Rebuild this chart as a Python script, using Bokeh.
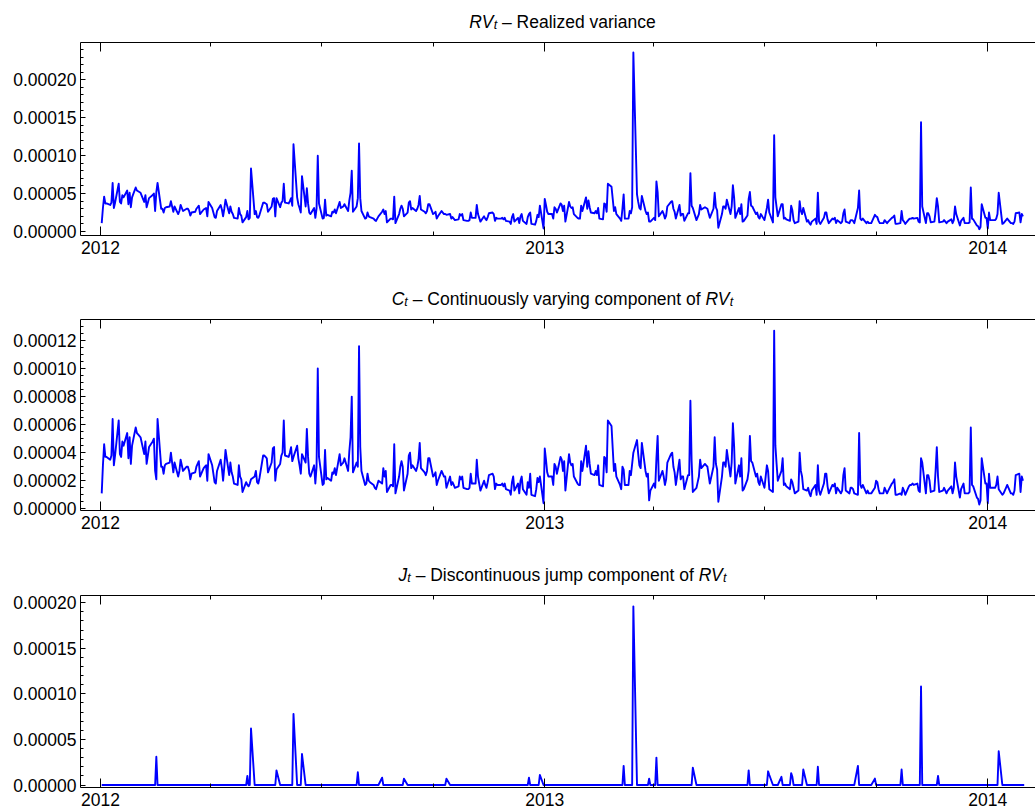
import pandas as pd
from bokeh.plotting import figure
from bokeh.layouts import column
from bokeh.models import (ColumnDataSource, Range1d, DatetimeAxis, FixedTicker,
                          SingleIntervalTicker, PrintfTickFormatter,
                          CustomJSTickFormatter, DatetimeTickFormatter, Label)
from bokeh.embed import file_html
from bokeh.resources import INLINE

# ------------------------------------------------------------------ data
trading_days = pd.bdate_range("2012-01-02", "2014-01-31")

# continuously varying component C_t, in units of 1e-6
continuous_e6 = [
    11, 31, 46, 37, 37, 35, 38, 64, 31, 38,
    63, 39, 37, 48, 45, 54, 36, 51, 32, 45,
    58, 54, 53, 52, 51, 39, 48, 32, 38, 44,
    48, 50, 27, 21, 64, 30, 30, 25, 31, 32,
    33, 40, 33, 26, 33, 23, 27, 35, 31, 27,
    30, 30, 27, 21, 25, 26, 30, 32, 34, 23,
    29, 30, 31, 20, 39, 31, 25, 19, 18, 27,
    35, 29, 20, 30, 42, 24, 33, 26, 23, 18,
    17, 31, 23, 21, 12, 19, 17, 16, 18, 21,
    23, 27, 19, 18, 22, 38, 38, 37, 36, 26,
    33, 43, 44, 20, 28, 32, 38, 40, 63, 38,
    37, 40, 44, 34, 37, 45, 36, 31, 25, 39,
    33, 57, 37, 25, 23, 31, 18, 30, 100, 37,
    17, 18, 42, 21, 22, 20, 26, 25, 29, 24,
    39, 31, 32, 33, 36, 27, 41, 51, 80, 26,
    33, 30, 116, 44, 27, 17, 18, 25, 20, 19,
    17, 15, 14, 17, 20, 18, 29, 23, 27, 12,
    17, 17, 16, 46, 11, 23, 30, 34, 30, 13,
    25, 38, 40, 29, 31, 27, 30, 35, 47, 29,
    26, 24, 27, 36, 36, 23, 24, 26, 17, 20,
    27, 25, 23, 23, 15, 23, 17, 19, 17, 15,
    16, 23, 21, 23, 15, 14, 14, 15, 25, 18,
    18, 35, 23, 18, 13, 20, 17, 15, 19, 24,
    25, 23, 14, 18, 17, 17, 18, 16, 18, 14,
    13, 10, 19, 23, 13, 18, 11, 20, 23, 14,
    10, 19, 15, 25, 10, 9, 14, 22, 19, 23,
    4, 43, 35, 26, 23, 23, 17, 32, 30, 25,
    37, 35, 27, 34, 13, 39, 33, 31, 32, 23,
    18, 17, 17, 34, 27, 45, 30, 41, 32, 25,
    24, 27, 24, 31, 17, 16, 37, 36, 26, 63,
    59, 43, 27, 32, 23, 17, 14, 30, 28, 17,
    17, 27, 24, 32, 40, 49, 39, 31, 29, 47,
    27, 23, 25, 6, 13, 18, 15, 36, 52, 20,
    27, 23, 17, 21, 33, 39, 40, 30, 26, 17,
    35, 21, 23, 23, 14, 24, 24, 77, 34, 12,
    15, 19, 23, 35, 29, 32, 31, 30, 24, 18,
    30, 51, 32, 28, 5, 23, 33, 33, 30, 42,
    23, 33, 61, 45, 18, 31, 23, 36, 13, 14,
    21, 27, 52, 34, 33, 23, 25, 19, 17, 23,
    15, 23, 31, 27, 14, 12, 127, 45, 32, 20,
    27, 36, 17, 18, 16, 14, 21, 19, 15, 11,
    13, 40, 27, 23, 14, 13, 15, 11, 9, 13,
    17, 10, 31, 13, 10, 18, 25, 25, 16, 11,
    17, 16, 18, 11, 15, 11, 13, 24, 29, 13,
    11, 15, 15, 14, 11, 10, 54, 17, 15, 17,
    11, 13, 11, 11, 11, 15, 20, 19, 14, 11,
    11, 15, 13, 11, 13, 18, 19, 21, 10, 10,
    11, 10, 15, 13, 10, 16, 17, 17, 18, 17,
    18, 13, 12, 36, 33, 11, 24, 24, 20, 12,
    13, 27, 44, 23, 12, 13, 15, 13, 11, 13,
    16, 11, 15, 33, 23, 8, 14, 16, 18, 11,
    11, 12, 58, 17, 16, 8, 7, 3, 6, 36,
    18, 18, 4, 25, 15, 15, 15, 17, 23, 14,
    10, 11, 13, 15, 17, 11, 11, 10, 13, 24,
    25, 12, 23, 20,
]

# discontinuous jump component J_t: trading-day number in the sample and size (1e-6)
jump_day = [33, 86, 89, 104, 114, 119, 151, 165, 179, 204, 252, 259, 308, 314,
            323, 327, 349, 381, 393, 394, 400, 406, 407, 414, 422, 445, 455,
            471, 483, 493, 529]
jump_e6 = [31, 10, 62, 16, 78, 34, 14, 8, 7, 7, 8, 11, 21, 196,
           7, 30, 19, 16, 15, 11, 9, 13, 9, 17, 20, 21, 7,
           17, 108, 10, 37]

year_ticks = ["2012-01-01", "2013-01-01", "2014-01-01"]
quarter_ticks = ["2012-04-01", "2012-07-01", "2012-10-01",
                 "2013-04-01", "2013-07-01", "2013-10-01"]

# ------------------------------------------------------------------ series
continuous = [v * 1e-6 for v in continuous_e6]
jumps = [0.0] * len(trading_days)
for d, v in zip(jump_day, jump_e6):
    jumps[d] = v * 1e-6
realized = [c + j for c, j in zip(continuous, jumps)]

# ------------------------------------------------------------------ layout helpers
EPOCH = pd.Timestamp("1970-01-01")


def ms(ts):
    return (pd.Timestamp(ts) - EPOCH) / pd.Timedelta(milliseconds=1)


FONT = "Liberation Sans"
MAIN = 17.5
SUB = 12.5
PX_PER_DAY = 1.2138
LEFT = 80
FRAME_W = 955
TITLE_H = 40
ref = pd.Timestamp("2012-01-01")
x_start = ms(ref + pd.Timedelta(days=(LEFT - 100) / PX_PER_DAY))
x_end = ms(ref + pd.Timedelta(days=(LEFT + FRAME_W - 100) / PX_PER_DAY))

WIDTHS = {' ': .278, '–': .556, 'a': .556, 'c': .5, 'd': .556, 'e': .556,
          'f': .278, 'g': .556, 'i': .222, 'j': .222, 'l': .222, 'm': .833,
          'n': .556, 'o': .556, 'p': .556, 'r': .333, 's': .5, 't': .278,
          'u': .556, 'v': .5, 'y': .5, 'z': .5, 'C': .722, 'D': .722,
          'J': .5, 'R': .722, 'V': .667}

year_ms = [ms(t) for t in year_ticks]
quarter_ms = [ms(t) for t in quarter_ticks]


def style_xaxis(ax, labels=True):
    ax.ticker = FixedTicker(ticks=year_ms, minor_ticks=quarter_ms)
    ax.major_tick_in = 9
    ax.major_tick_out = 0
    ax.minor_tick_in = 4
    ax.minor_tick_out = 0
    ax.axis_line_color = "black"
    ax.major_tick_line_color = "black"
    ax.minor_tick_line_color = "black"
    ax.major_label_text_font = FONT
    ax.major_label_text_color = "black"
    if labels:
        ax.formatter = DatetimeTickFormatter(years="%Y", months="%Y", days="%Y",
                                             hours="%Y", minutes="%Y")
        ax.major_label_text_font_size = f"{MAIN}px"
        ax.major_label_standoff = 5
    else:
        ax.formatter = CustomJSTickFormatter(code="return ''")
        ax.major_label_text_font_size = "0px"
        ax.major_label_standoff = 0


def title_strip(pieces):
    """A thin strip above a panel holding its centred title (canvas pixel coordinates)."""
    t = figure(title=None, frame_width=FRAME_W, frame_height=TITLE_H,
               x_range=Range1d(LEFT, LEFT + FRAME_W),
               y_range=Range1d(TITLE_H, 0), output_backend="svg",
               toolbar_location=None, x_axis_location=None, y_axis_location=None,
               min_border_left=LEFT, min_border_right=0, min_border_top=0,
               min_border_bottom=0)
    t.outline_line_color = None
    t.xgrid.visible = False
    t.ygrid.visible = False
    widths = []
    for text, kind in pieces:
        size = SUB if kind == "sub" else MAIN
        widths.append(sum(WIDTHS.get(ch, .556) for ch in text) * size)
    x = 562 - sum(widths) / 2
    base = 21.0
    for (text, kind), w in zip(pieces, widths):
        size = SUB if kind == "sub" else MAIN
        lead = len(text) - len(text.lstrip(" "))
        xx = x + lead * WIDTHS[" "] * size
        yy = base + (3.5 if kind == "sub" else 0)
        t.add_layout(Label(x=xx, y=yy, text=text.strip(), text_font=FONT,
                           text_font_size=f"{size}px",
                           text_font_style="normal" if kind == "rm" else "italic",
                           text_color="black", text_align="left",
                           text_baseline="alphabetic"))
        x += w
    return t


def make_panel(values, y0, y1, interval, nminor, frame_h, bottom):
    p = figure(title=None, frame_width=FRAME_W, frame_height=frame_h,
               x_axis_type="datetime",
               x_range=Range1d(x_start, x_end), y_range=Range1d(y0, y1),
               output_backend="svg", toolbar_location=None,
               min_border_left=LEFT, min_border_right=0,
               min_border_top=42 - TITLE_H, min_border_bottom=bottom)
    p.outline_line_color = None
    p.xgrid.visible = False
    p.ygrid.visible = False

    style_xaxis(p.xaxis[0])
    top = DatetimeAxis()
    style_xaxis(top, labels=False)
    p.add_layout(top, "above")

    ya = p.yaxis[0]
    ya.ticker = SingleIntervalTicker(interval=interval, num_minor_ticks=nminor)
    ya.formatter = PrintfTickFormatter(format="%.5f")
    ya.major_tick_in = 5
    ya.major_tick_out = 0
    ya.minor_tick_in = 3
    ya.minor_tick_out = 0
    ya.axis_line_color = "black"
    ya.major_tick_line_color = "black"
    ya.minor_tick_line_color = "black"
    ya.major_label_text_font = FONT
    ya.major_label_text_font_size = f"{MAIN}px"
    ya.major_label_text_color = "black"
    ya.major_label_standoff = 4

    src = ColumnDataSource(dict(date=trading_days, val=values))
    p.line(x="date", y="val", source=src, line_color="#0000ff", line_width=1.9,
           line_join="round")
    return p


s1 = 0.0002 / 151.7
t1 = title_strip([("RV", "it"), ("t", "sub"), (" – Realized variance", "rm")])
p1 = make_panel(realized, -4 * s1, -4 * s1 + 193 * s1, 0.00005, 5, 193, 42)

s2 = 0.00012 / 168.3
t2 = title_strip([("C", "it"), ("t", "sub"),
                  (" – Continuously varying component of ", "rm"),
                  ("RV", "it"), ("t", "sub")])
p2 = make_panel(continuous, -1.7 * s2, -1.7 * s2 + 191 * s2, 0.00002, 4, 191, 43)

s3 = 0.0002 / 182.3
t3 = title_strip([("J", "it"), ("t", "sub"),
                  (" – Discontinuous jump component of ", "rm"),
                  ("RV", "it"), ("t", "sub")])
p3 = make_panel(jumps, -2.5 * s3, -2.5 * s3 + 192 * s3, 0.00005, 5, 192, 20)

layout = column(t1, p1, t2, p2, t3, p3, spacing=0)
html = file_html(layout, INLINE, title="Realized variance decomposition")
html = html.replace("</head>",
                    "<style>html,body{margin:0;padding:0;overflow:hidden;}</style></head>", 1)
with open("out.html", "w") as f:
    f.write(html)
